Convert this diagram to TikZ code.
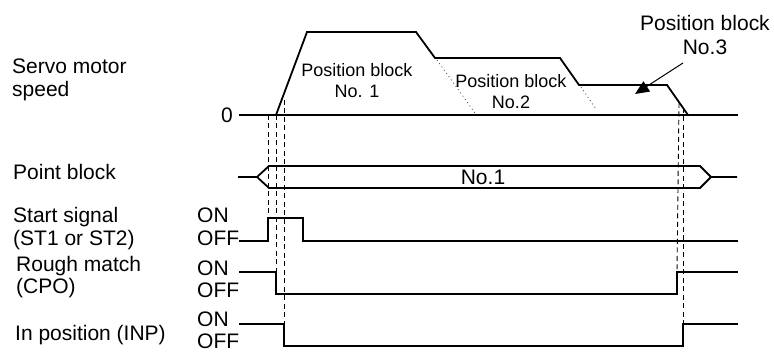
\documentclass[tikz,border=0pt]{standalone}
\usepackage{fontspec}
\setmainfont{Liberation Sans}
\usetikzlibrary{arrows.meta}
\begin{document}
\begin{tikzpicture}[x=1pt,y=-1pt,
  sig/.style={line width=1.8pt,line join=miter},
  guide/.style={line width=0.9pt,dash pattern=on 5pt off 3.5pt},
  dots/.style={line width=0.8pt,dash pattern=on 1pt off 3pt,black!70},
  lbl/.style={inner sep=0pt,anchor=base west,font=\fontsize{21}{24}\selectfont},
  big/.style={inner sep=0pt,anchor=base,font=\fontsize{21}{24}\selectfont},
  small/.style={inner sep=0pt,anchor=base,font=\fontsize{18}{21}\selectfont}]
\useasboundingbox (0,0) rectangle (774,352);
% ---- labels on the left
\node[lbl] (l1a) at (12,74) {Servo motor};
\node[lbl] (l1b) at (12,97) {speed};
\node[lbl] (l2) at (13,180) {Point block};
\node[lbl] (l3a) at (13,223) {Start signal};
\node[lbl] (l3b) at (13,246) {(ST1 or ST2)};
\node[lbl] (l4a) at (16,272) {Rough match};
\node[lbl] (l4b) at (16,294) {(CPO)};
\node[lbl] (l5) at (15,341) {In position (INP)};
\node[lbl] (on1) at (197,223) {ON};
\node[lbl] (off1) at (197,246) {OFF};
\node[lbl] (on2) at (197,276) {ON};
\node[lbl] (off2) at (197,298) {OFF};
\node[lbl] (on3) at (197,327) {ON};
\node[lbl] (off3) at (197,348.5) {OFF};
\node[lbl] (zero) at (221,123) {0};
% ---- speed profile
\coordinate (z0) at (239,115);
\coordinate (z1) at (738,115);
\coordinate (s0) at (276,115);
\coordinate (s1) at (307,32);
\coordinate (s2) at (416,32);
\coordinate (s3) at (435,58);
\coordinate (s4) at (560,58);
\coordinate (s5) at (579,85);
\coordinate (s6) at (667,85);
\coordinate (s7) at (688,115);
\draw[sig] (z0) -- (z1);
\draw[sig] (s0) -- (s1) -- (s2) -- (s3) -- (s4) -- (s5) -- (s6) -- (s7);
\coordinate (d1a) at (437,60);
\coordinate (d1b) at (475,113);
\coordinate (d2a) at (581,87);
\coordinate (d2b) at (596,109);
\draw[dots] (d1a) -- (d1b);
\draw[dots] (d2a) -- (d2b);
\node[small] (pb1) at (357,77) {Position block};
\node[small] (pb1n) at (357,98) {No. 1};
\node[small] (pb2) at (511,88) {Position block};
\node[small] (pb2n) at (511,109) {No.2};
\node[big] (pb3) at (705,31) {Position block};
\node[big] (pb3n) at (705,55) {No.3};
\coordinate (ar0) at (683,63);
\coordinate (ar1) at (635,94);
\draw[line width=1pt,-{Triangle[length=14pt,width=12pt]}] (ar0) -- (ar1);
% ---- point block
\coordinate (p0) at (238,177);
\coordinate (p1) at (257,177);
\coordinate (p2) at (269,166);
\coordinate (p3) at (700,166);
\coordinate (p4) at (711,177);
\coordinate (p5) at (737,177);
\coordinate (p6) at (269,188);
\coordinate (p7) at (700,188);
\draw[sig] (p0) -- (p1) -- (p2) -- (p3) -- (p4) -- (p5);
\draw[sig] (p1) -- (p6) -- (p7) -- (p4);
\node[big] (pbno) at (483,185) {No.1};
% ---- start signal
\coordinate (a0) at (239,241);
\coordinate (a1) at (268,241);
\coordinate (a2) at (268,218);
\coordinate (a3) at (303,218);
\coordinate (a4) at (303,241);
\coordinate (a5) at (738,241);
\draw[sig] (a0) -- (a1) -- (a2) -- (a3) -- (a4) -- (a5);
% ---- rough match
\coordinate (b0) at (239,272);
\coordinate (b1) at (276,272);
\coordinate (b2) at (276,294);
\coordinate (b3) at (677,294);
\coordinate (b4) at (677,272);
\coordinate (b5) at (738,272);
\draw[sig] (b0) -- (b1) -- (b2) -- (b3) -- (b4) -- (b5);
% ---- in position
\coordinate (c0) at (239,324);
\coordinate (c1) at (284,324);
\coordinate (c2) at (284,346);
\coordinate (c3) at (683,346);
\coordinate (c4) at (683,324);
\coordinate (c5) at (738,324);
\draw[sig] (c0) -- (c1) -- (c2) -- (c3) -- (c4) -- (c5);
% ---- guide lines
\coordinate (g1) at (268,115);
\coordinate (g2) at (276,115);
\coordinate (g3) at (284,100);
\coordinate (g4) at (679,103);
\coordinate (g5) at (683,108);
\draw[guide] (g1) -- (a2);
\draw[guide] (g2) -- (b1);
\draw[guide] (g3) -- (c1);
\draw[guide] (g4) -- (b4);
\draw[guide] (g5) -- (c4);
\end{tikzpicture}
\end{document}
